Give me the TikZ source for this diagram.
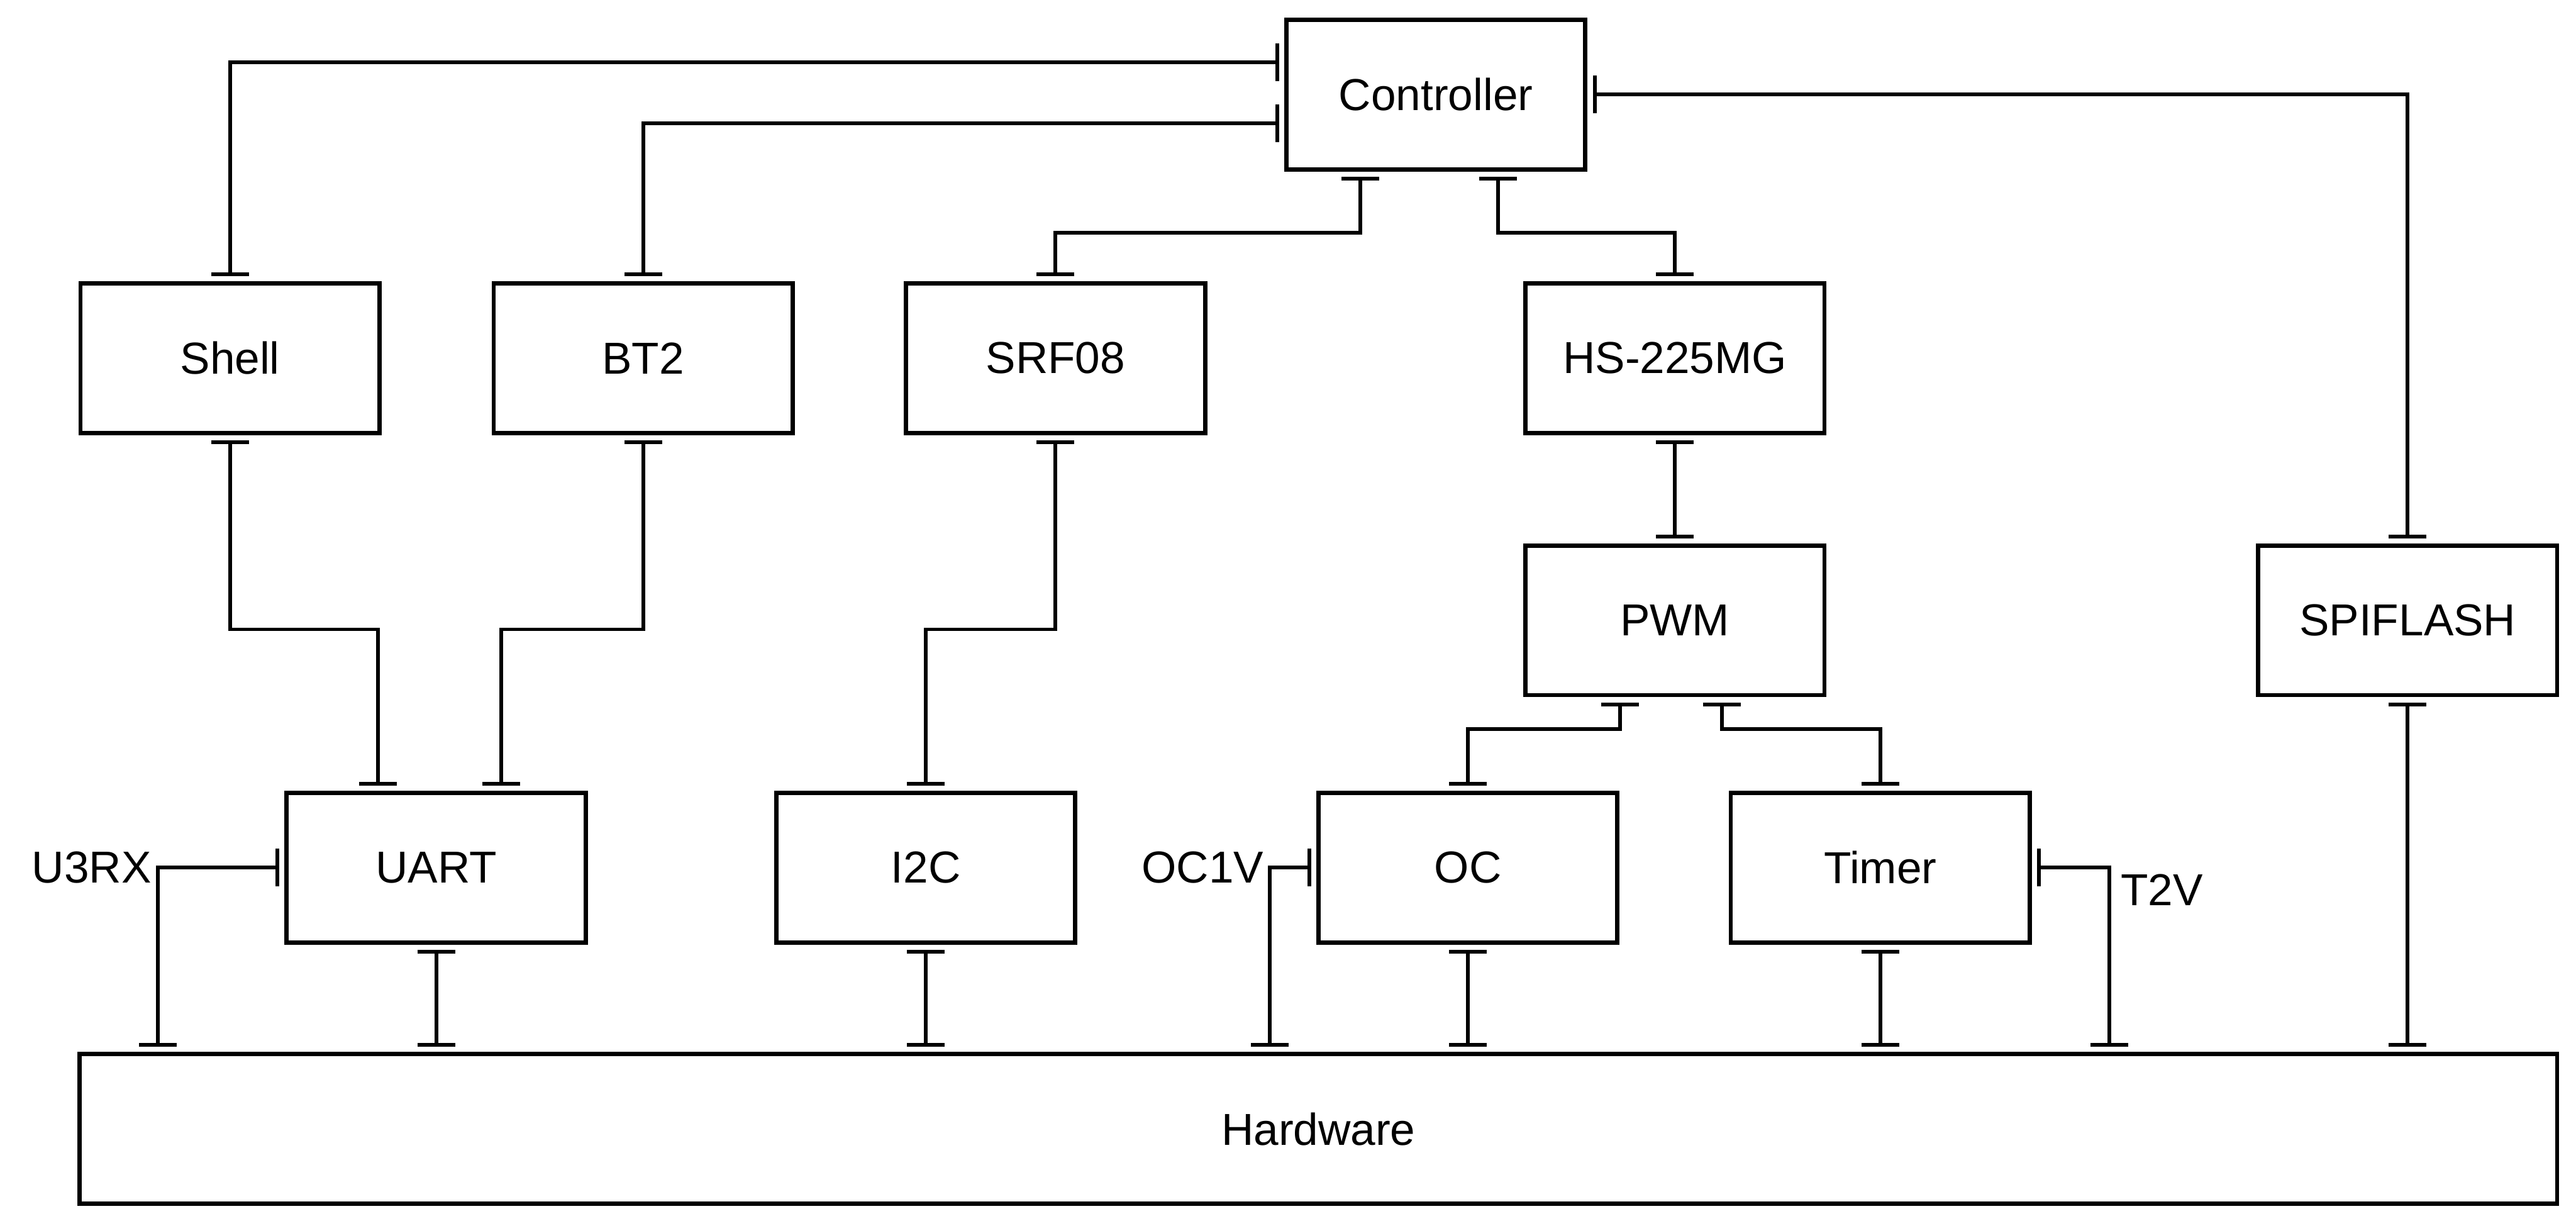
\documentclass[tikz,border=0pt]{standalone}
\usepackage{fontspec}
\setmainfont{Liberation Sans}
\usepackage{tikz}
\usetikzlibrary{arrows.meta, positioning, calc}

\begin{document}
\begin{tikzpicture}[
  blk/.style={rectangle, draw=black, line width=1.5pt,
              minimum width=3.64cm, minimum height=1.82cm,
              outer sep=0.09cm, font=\fontsize{15.5pt}{18pt}\selectfont},
  conn/.style={{Bar[width=0.46cm]}-{Bar[width=0.46cm]}, line width=1.3pt},
  sig/.style={font=\fontsize{15.5pt}{18pt}\selectfont, inner sep=2pt}
]
\useasboundingbox (0,0) rectangle (31.36,-14.92);

\node[blk]  (ctrl)  at (17.48,-1.15)  {Controller};
\node[blk]  (shell) at (2.80,-4.36)   {Shell};
\node[blk]  (bt2)   at (7.83,-4.36)   {BT2};
\node[blk]  (srf)   at (12.85,-4.36)  {SRF08};
\node[blk]  (servo) at (20.39,-4.36)  {HS-225MG};
\node[blk]  (pwm)   at (20.39,-7.55)  {PWM};
\node[blk]  (flash) at (29.31,-7.55)  {SPIFLASH};
\node[blk]  (uart)  at (5.31,-10.56)  {UART};
\node[blk]  (i2c)   at (11.27,-10.56) {I2C};
\node[blk]  (oc)    at (17.87,-10.56) {OC};
\node[blk]  (timer) at (22.89,-10.56) {Timer};
\node[blk, minimum width=30.16cm] (hw) at (16.05,-13.74) {Hardware};

% signal taps
\coordinate (u3rx) at (1.92,-10.56);
\coordinate (oc1v) at (15.46,-10.56);
\coordinate (t2v)  at (25.68,-10.56);
\node[sig, anchor=east] (u3rxlbl) at (u3rx) {U3RX};
\node[sig, anchor=east] (oc1vlbl) at (oc1v) {OC1V};
\node[sig, anchor=north west] (t2vlbl) at ([xshift=0.06cm]t2v) {T2V};

% controller links
\draw[conn] ([yshift=0.39cm]ctrl.west) -| (shell.north);
\draw[conn] ([yshift=-0.35cm]ctrl.west) -| (bt2.north);
\draw[conn] ([xshift=-0.92cm]ctrl.south) -- ++(0,-0.68) -| (srf.north);
\draw[conn] ([xshift=0.76cm]ctrl.south) -- ++(0,-0.68) -| (servo.north);
\draw[conn] (ctrl.east) -| (flash.north);

% drivers
\draw[conn] (servo.south) -- (pwm.north);
\draw[conn] ([xshift=-0.67cm]pwm.south) -- ++(0,-0.32) -| (oc.north);
\draw[conn] ([xshift=0.57cm]pwm.south) -- ++(0,-0.32) -| (timer.north);
\draw[conn] (shell.south) -- ++(0,-2.30) -| ([xshift=-0.71cm]uart.north);
\draw[conn] (bt2.south) -- ++(0,-2.30) -| ([xshift=0.79cm]uart.north);
\draw[conn] (srf.south) -- ++(0,-2.30) -| (i2c.north);

% hardware
\draw[conn] (uart.south) -- (uart.south |- hw.north);
\draw[conn] (i2c.south) -- (i2c.south |- hw.north);
\draw[conn] (oc.south) -- (oc.south |- hw.north);
\draw[conn] (timer.south) -- (timer.south |- hw.north);
\draw[conn] (flash.south) -- (flash.south |- hw.north);
\draw[conn] (uart.west) -| (u3rx |- hw.north);
\draw[conn] (oc.west) -| (oc1v |- hw.north);
\draw[conn] (timer.east) -| (t2v |- hw.north);
\end{tikzpicture}
\end{document}
